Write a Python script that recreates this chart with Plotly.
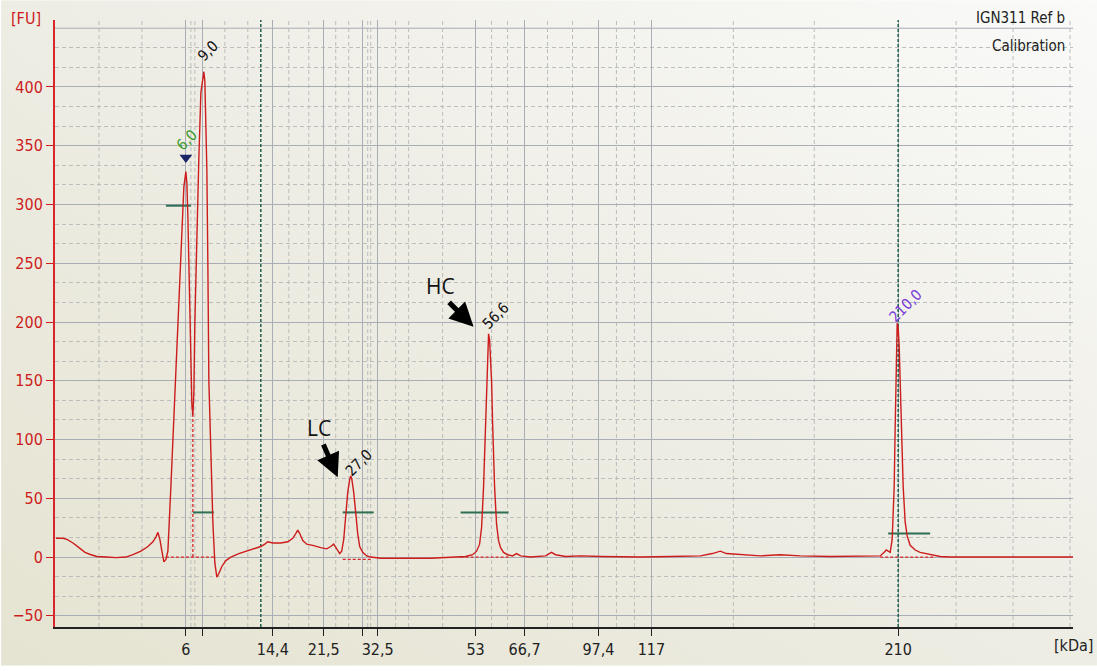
import base64
import plotly.graph_objects as go

# ---------------- data ----------------
# migration position (arbitrary units) and fluorescence [FU]
pos = [55, 62, 66, 72, 78, 84, 90, 96, 105, 115, 125, 132, 140, 147, 152, 155, 157, 159, 161, 163,
       165, 167, 170, 174, 178, 181, 183, 185, 186, 187, 188, 189, 190, 191, 192, 193, 194, 196, 198,
       200, 202, 203, 204, 205, 206, 207, 208, 210, 212, 214, 216, 218, 221, 225, 230, 238, 246, 254,
       260, 264, 267, 272, 280, 287, 292, 295, 297, 299, 302, 306, 312, 320, 326, 330, 333, 336, 339,
       341, 343, 345, 347, 349, 350, 351, 353, 355, 357, 359, 362, 366, 370, 380, 400, 430, 455, 465,
       472, 476, 479, 481, 483, 485, 487, 488, 489, 491, 492, 494, 496, 498, 500, 503, 507, 512, 516,
       520, 530, 545, 551, 555, 565, 580, 600, 640, 670, 700, 712, 720, 726, 740, 760, 780, 800, 830,
       860, 880, 884, 886, 888, 890, 892, 894, 895, 896, 897, 898, 899, 900, 901, 902, 903, 905, 907,
       910, 915, 920, 930, 940, 950, 1000, 1073]
fu = [16, 16, 15, 12, 8, 4, 2, 0.5, 0, -0.5, 0, 2, 5, 9, 13, 17, 21, 15, 5, -4,
      -2, 5, 60, 140, 220, 280, 315, 328, 318, 290, 250, 200, 160, 130, 120, 140, 200, 280, 340,
      395, 410, 413, 405, 375, 330, 250, 150, 90, 30, -5, -17, -14, -8, -3, 0, 3, 5, 7,
      9, 11, 13, 12, 12, 13, 16, 20, 23, 20, 14, 11, 10, 8, 7, 9, 11, 7, 3,
      5, 15, 35, 55, 66, 69, 67, 55, 38, 20, 9, 4, 1, 0, -1, -1, -1, 0, 0.5,
      2, 5, 11, 25, 60, 120, 175, 190, 185, 150, 115, 60, 28, 14, 8, 4, 2, 1, 3,
      1, 0, 1, 4, 2, 0.5, 1, 0.5, 0, 0.5, 1, 3, 5, 3, 2, 1, 2, 1, 0.5,
      0.5, 1, 4, 6, 5, 4, 15, 60, 110, 165, 199, 195, 180, 150, 120, 90, 60, 30, 18,
      10, 6, 4, 2, 0.5, 0, 0, 0]

# size ladder (tick positions and labels)
ladder_pos = [185, 202, 272, 323, 362, 377, 475, 524, 598, 651, 898]
ladder_lbl = ["6", "", "14,4", "21,5", "", "32,5", "53", "66,7", "97,4", "117", "210"]
minor_pos = [98, 141, 190, 194, 224, 247, 288, 308, 335, 348, 367, 370, 395, 408, 442, 491, 507,
             547, 572, 616, 634, 733, 814, 956, 1013, 1070]
marker_pos = [260, 898]  # lower / upper marker
y_ticks = [-50, 0, 50, 100, 150, 200, 250, 300, 350, 400]
y_top_grid = [450]

# peak labels
peak_x = [186, 207, 358, 495, 905]
peak_y = [355, 431, 80, 205, 214]
peak_txt = ["6,0", "9,0", "27,0", "56,6", "210,0"]
peak_col = ["#3a9a2a", "#111111", "#111111", "#111111", "#7a3fd8"]

# peak windows (green) and baselines (red dashed)
win_start = [165, 192, 342, 460, 888]
win_end = [190, 213, 373, 508, 930]
win_level = [299, 38, 38, 38, 20]
base_start = [165, 342, 460, 880]
base_end = [213, 370, 508, 935]
base_level = [0, -2, 0, 0]
split_x = [192]
split_top = [120]

X_RANGE = [54, 1073]
Y_RANGE = [-59.5, 457]

# ---------------- figure ----------------
fig = go.Figure()

# soft diagonal background gradient (beige bottom-left -> white top-right)
svg = ('<svg xmlns="http://www.w3.org/2000/svg" width="1097" height="671" preserveAspectRatio="none">'
       '<defs><linearGradient id="g" x1="0" y1="1" x2="1" y2="0">'
       '<stop offset="0" stop-color="#e5e3d1"/><stop offset="0.55" stop-color="#efeee6"/>'
       '<stop offset="1" stop-color="#fafaf9"/></linearGradient></defs>'
       '<rect width="1097" height="671" fill="url(#g)"/></svg>')
fig.add_layout_image(dict(source="data:image/svg+xml;base64," + base64.b64encode(svg.encode()).decode(),
                          xref="paper", yref="paper", x=-54 / 1019, y=1 + 20 / 612,
                          sizex=1097 / 1019, sizey=671 / 612, sizing="stretch",
                          xanchor="left", yanchor="top", layer="below"))

# minor dashed verticals
for m in minor_pos:
    fig.add_shape(type="line", x0=m, x1=m, y0=Y_RANGE[0], y1=Y_RANGE[1], xref="x", yref="y",
                  line=dict(color="#bcbcbc", width=1, dash="4px,3px"), layer="below")
# top solid grid line (unlabelled)
for g in y_top_grid:
    fig.add_shape(type="line", x0=X_RANGE[0], x1=X_RANGE[1], y0=g, y1=g, xref="x", yref="y",
                  line=dict(color="#a9aeb6", width=1), layer="below")
# marker verticals (between grid and traces)
for m in marker_pos:
    fig.add_shape(type="line", x0=m, x1=m, y0=Y_RANGE[0], y1=Y_RANGE[1], xref="x", yref="y",
                  line=dict(color="#1f5e4c", width=1.5, dash="3px,2px"), layer="between")

# green peak windows
wx, wy = [], []
for s, e, l in zip(win_start, win_end, win_level):
    wx += [s, e, None]
    wy += [l, l, None]
fig.add_trace(go.Scatter(x=wx, y=wy, mode="lines", line=dict(color="#2d6e55", width=2),
                         hoverinfo="skip", showlegend=False))

# red dashed baselines
bx, by = [], []
for s, e, l in zip(base_start, base_end, base_level):
    bx += [s, e, None]
    by += [l, l, None]
for sx, st in zip(split_x, split_top):
    bx += [sx, sx, None]
    by += [0, st, None]
fig.add_trace(go.Scatter(x=bx, y=by, mode="lines", line=dict(color="#d8262a", width=1.3, dash="3px,2px"),
                         hoverinfo="skip", showlegend=False))

# trace
fig.add_trace(go.Scatter(x=pos, y=fu, mode="lines", line=dict(color="#cc1c1c", width=1.4),
                         showlegend=False))

# lower marker triangle
fig.add_trace(go.Scatter(x=[peak_x[0] - 1], y=[340], mode="markers",
                         marker=dict(symbol="triangle-down", size=11, color="#1a2466"),
                         showlegend=False, hoverinfo="skip"))

font_main = "DejaVu Sans Condensed, DejaVu Sans, sans-serif"

# peak labels
for x, y, t, c in zip(peak_x, peak_y, peak_txt, peak_col):
    fig.add_annotation(x=x, y=y, text=t, showarrow=False, textangle=-45,
                       font=dict(family=font_main, size=15, color=c))

# LC / HC arrows
fig.add_annotation(x=337, y=68, ax=322, ay=97, axref="x", ayref="y", xref="x", yref="y",
                   showarrow=True, arrowhead=2, arrowsize=0.95, arrowwidth=5, arrowcolor="#000000", text="")
fig.add_annotation(x=473, y=196, ax=447, ay=218, axref="x", ayref="y", xref="x", yref="y",
                   showarrow=True, arrowhead=2, arrowsize=0.95, arrowwidth=5, arrowcolor="#000000", text="")
fig.add_annotation(x=318, y=110, text="LC", showarrow=False,
                   font=dict(family="Open Sans, sans-serif", size=21, color="#111111"))
fig.add_annotation(x=440, y=231, text="HC", showarrow=False,
                   font=dict(family="Open Sans, sans-serif", size=21, color="#111111"))

# axis unit labels and title text (paper coordinates)
fig.add_annotation(x=-0.0285, y=1.003, xref="paper", yref="paper", text="[FU]", showarrow=False,
                   xanchor="center", yanchor="middle",
                   font=dict(family=font_main, size=16, color="#cc1c1c"))
fig.add_annotation(x=1.0, y=-0.031, xref="paper", yref="paper", text="[kDa]", showarrow=False,
                   xanchor="center", yanchor="middle",
                   font=dict(family=font_main, size=16, color="#222222"))
fig.add_annotation(x=0.994, y=1.003, xref="paper", yref="paper", text="IGN311 Ref b", showarrow=False,
                   xanchor="right", yanchor="middle", font=dict(family=font_main, size=15, color="#222222"))
fig.add_annotation(x=0.994, y=0.957, xref="paper", yref="paper", text="Calibration", showarrow=False,
                   xanchor="right", yanchor="middle", font=dict(family=font_main, size=15, color="#222222"))

fig.update_layout(
    width=1097, height=671,
    margin=dict(l=54, r=24, t=20, b=39),
    paper_bgcolor="rgba(0,0,0,0)",
    plot_bgcolor="rgba(0,0,0,0)",
    showlegend=False,
    xaxis=dict(
        range=X_RANGE, tickmode="array", tickvals=ladder_pos, ticktext=ladder_lbl,
        showgrid=True, gridcolor="#a9aeb6", gridwidth=1,
        ticks="outside", ticklen=7, tickcolor="#222222",
        showline=True, linecolor="#222222", linewidth=1.5,
        tickfont=dict(family=font_main, size=16, color="#222222"),
        zeroline=False,
    ),
    yaxis=dict(
        range=Y_RANGE, tickmode="array", tickvals=y_ticks,
        showgrid=True, gridcolor="#a9aeb6", gridwidth=1,
        ticks="outside", ticklen=7, tickcolor="#cc1c1c",
        showline=True, linecolor="#d8262a", linewidth=2,
        tickfont=dict(family=font_main, size=16, color="#cc1c1c"),
        zeroline=False,
        minor=dict(dtick=50 / 3, tick0=0, showgrid=True, gridcolor="#bdbdbd",
                   griddash="4px,3px", gridwidth=1, ticks=""),
    ),
)

fig.write_html("out.html")
